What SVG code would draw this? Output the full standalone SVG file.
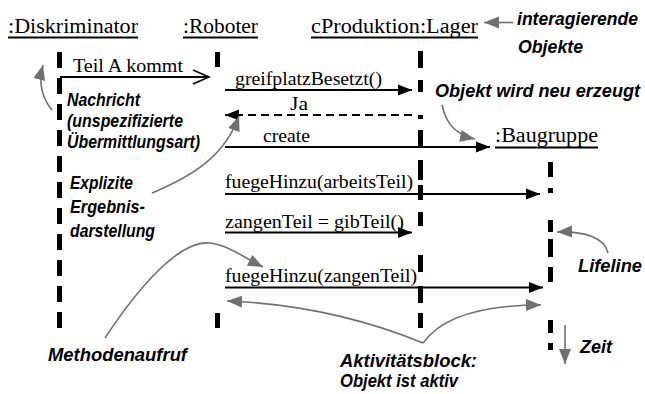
<svg xmlns="http://www.w3.org/2000/svg" width="645" height="394" viewBox="0 0 645 394">
<style>
  .hdr { font-family: "Liberation Serif", "Times New Roman", serif; font-size: 20.5px; fill: #000; }
  .msg { font-family: "Liberation Serif", "Times New Roman", serif; font-size: 19px; fill: #000; }
  .ann { font-family: "Liberation Sans", Arial, sans-serif; font-size: 18.5px; font-weight: bold; font-style: italic; fill: #000; }
  .ul { stroke: #000; stroke-width: 2; }
  .life { stroke: #000; stroke-width: 5; fill: none; }
  .m { stroke: #000; stroke-width: 2; fill: none; }
  .g { stroke: #707070; stroke-width: 1.6; fill: none; }
</style>
<defs>
  <marker id="arrowFilled" markerUnits="userSpaceOnUse" markerWidth="15" markerHeight="12" refX="14" refY="6" orient="auto">
    <path d="M0,0.5 L14,6 L0,11.5 z" fill="#000"/>
  </marker>
  <marker id="arrowOpen" markerUnits="userSpaceOnUse" markerWidth="20" markerHeight="16" refX="17" refY="8" orient="auto">
    <path d="M1,1 L17,8 L1,15" fill="none" stroke="#000" stroke-width="1.6"/>
  </marker>
  <marker id="arrowGray" markerUnits="userSpaceOnUse" markerWidth="16" markerHeight="12" refX="15" refY="6" orient="auto">
    <path d="M0,0 L15,6 L0,12 z" fill="#707070"/>
  </marker>
</defs>
<rect width="645" height="394" fill="#fff"/>

<g id="diskriminator">
  <text class="hdr" x="8" y="33" textLength="130" lengthAdjust="spacingAndGlyphs">:Diskriminator</text>
  <line class="ul" x1="8" y1="37.5" x2="138" y2="37.5"/>
  <line class="life" x1="59.5" y1="52" x2="59.5" y2="329" stroke-dasharray="16 10"/>
</g>

<g id="roboter">
  <text class="hdr" x="183" y="33" textLength="75" lengthAdjust="spacingAndGlyphs">:Roboter</text>
  <line class="ul" x1="183" y1="37.5" x2="258" y2="37.5"/>
  <line class="life" x1="217.5" y1="52" x2="217.5" y2="67"/>
  <line class="life" x1="217.5" y1="313" x2="217.5" y2="328"/>
</g>

<g id="lager">
  <text class="hdr" x="311" y="33" textLength="167" lengthAdjust="spacingAndGlyphs">cProduktion:Lager</text>
  <line class="ul" x1="311" y1="37.5" x2="478" y2="37.5"/>
  <path class="life" d="M420.5,51 V68 M420.5,80 V92 M420.5,115 V119 M420.5,130 V147 M420.5,160 V180 M420.5,185 V200 M420.5,212 V226 M420.5,255 V272 M420.5,286 V303 M420.5,313 V328"/>
</g>

<g id="baugruppe">
  <text class="hdr" x="495" y="142" textLength="103" lengthAdjust="spacingAndGlyphs">:Baugruppe</text>
  <line class="ul" x1="495" y1="147.5" x2="598" y2="147.5"/>
  <path class="life" d="M550.5,162 V177 M550.5,188 V193 M550.5,220 V232 M550.5,239 V257 M550.5,267 V282 M550.5,320 V333 M550.5,343 V350"/>
</g>

<g id="connectors">
  <text class="msg" x="73" y="71.5" textLength="110" lengthAdjust="spacingAndGlyphs">Teil A kommt</text>
  <line class="m" x1="60" y1="77" x2="209" y2="77" marker-end="url(#arrowOpen)"/>

  <text class="msg" x="235" y="85" textLength="147" lengthAdjust="spacingAndGlyphs">greifplatzBesetzt()</text>
  <line class="m" x1="225" y1="90" x2="412" y2="90" marker-end="url(#arrowFilled)"/>

  <text class="msg" x="290" y="110" textLength="18" lengthAdjust="spacingAndGlyphs">Ja</text>
  <line class="m" x1="412" y1="115" x2="225" y2="115" stroke-dasharray="8 5" marker-end="url(#arrowFilled)"/>

  <text class="msg" x="263" y="142" textLength="47" lengthAdjust="spacingAndGlyphs">create</text>
  <line class="m" x1="225" y1="147" x2="490" y2="147" marker-end="url(#arrowFilled)"/>

  <text class="msg" x="225" y="188" textLength="188" lengthAdjust="spacingAndGlyphs">fuegeHinzu(arbeitsTeil)</text>
  <line class="m" x1="225" y1="194" x2="540" y2="194" marker-end="url(#arrowFilled)"/>

  <text class="msg" x="225" y="228" textLength="179" lengthAdjust="spacingAndGlyphs">zangenTeil = gibTeil()</text>
  <line class="m" x1="225" y1="232.5" x2="412" y2="232.5" marker-end="url(#arrowFilled)"/>

  <text class="msg" x="225" y="282" textLength="192" lengthAdjust="spacingAndGlyphs">fuegeHinzu(zangenTeil)</text>
  <line class="m" x1="225" y1="287.5" x2="543" y2="287.5" marker-end="url(#arrowFilled)"/>
</g>

<g id="annotations">
  <text class="ann" x="517" y="25" textLength="121" lengthAdjust="spacingAndGlyphs">interagierende</text>
  <text class="ann" x="518" y="53" textLength="65" lengthAdjust="spacingAndGlyphs">Objekte</text>
  <line class="g" x1="513" y1="22.5" x2="484" y2="22.5" marker-end="url(#arrowGray)"/>

  <text class="ann" x="435" y="97" textLength="205" lengthAdjust="spacingAndGlyphs">Objekt wird neu erzeugt</text>
  <path class="g" d="M442,105 C446,124 456,135 475,139" marker-end="url(#arrowGray)"/>

  <text class="ann" x="67" y="106" textLength="73" lengthAdjust="spacingAndGlyphs">Nachricht</text>
  <text class="ann" x="67" y="127" textLength="116" lengthAdjust="spacingAndGlyphs">(unspezifizierte</text>
  <text class="ann" x="67" y="148" textLength="133" lengthAdjust="spacingAndGlyphs">Übermittlungsart)</text>
  <path class="g" d="M52,110 C42,98 38,84 43,65" marker-end="url(#arrowGray)"/>

  <text class="ann" x="70" y="189" textLength="63" lengthAdjust="spacingAndGlyphs">Explizite</text>
  <text class="ann" x="70" y="213" textLength="75" lengthAdjust="spacingAndGlyphs">Ergebnis-</text>
  <text class="ann" x="70" y="237" textLength="85" lengthAdjust="spacingAndGlyphs">darstellung</text>
  <path class="g" d="M152,193 C195,175 225,155 239,116" marker-end="url(#arrowGray)"/>

  <text class="ann" x="578" y="272" textLength="64" lengthAdjust="spacingAndGlyphs">Lifeline</text>
  <path class="g" d="M608,253 C605,238 585,231 557,232" marker-end="url(#arrowGray)"/>

  <text class="ann" x="580" y="353" textLength="32" lengthAdjust="spacingAndGlyphs">Zeit</text>
  <line class="g" x1="565" y1="325" x2="565" y2="364" marker-end="url(#arrowGray)"/>

  <text class="ann" x="48" y="360.5" textLength="139" lengthAdjust="spacingAndGlyphs">Methodenaufruf</text>
  <path class="g" d="M105,338 C140,285 180,240 210,243 C228,245 245,258 263,267" marker-end="url(#arrowGray)"/>

  <text class="ann" x="340" y="366.5" textLength="137" lengthAdjust="spacingAndGlyphs">Aktivitätsblock:</text>
  <text class="ann" x="340" y="387" textLength="118" lengthAdjust="spacingAndGlyphs">Objekt ist aktiv</text>
  <path class="g" d="M423,343 Q330,305 227,301" marker-end="url(#arrowGray)"/>
  <path class="g" d="M423,343 Q450,305 541,305" marker-end="url(#arrowGray)"/>
</g>
</svg>
